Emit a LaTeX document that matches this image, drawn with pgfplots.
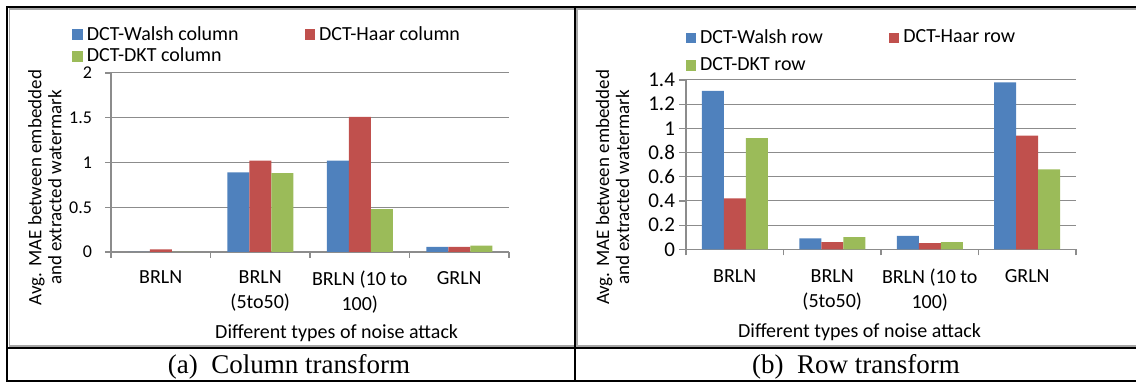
\documentclass[border=0pt]{standalone}
\usepackage{fontspec}
\setmainfont{Carlito}
\newfontfamily\timesf{Liberation Serif}
\usepackage{pgfplots}
\pgfplotsset{compat=1.18}
\definecolor{cblue}{HTML}{4F81BD}
\definecolor{cred}{HTML}{C0504D}
\definecolor{cgreen}{HTML}{9BBB59}
\definecolor{gridc}{HTML}{8C8C8C}
\definecolor{framec}{HTML}{A6A6A6}
\pgfplotsset{
  sqleg/.style={legend image code/.code={\fill[##1] (0pt,-2.6pt) rectangle (5.2pt,2.6pt);}},
  mybar/.style={
    scale only axis,
    ybar=0pt, bar width=11pt,
    xmin=-0.5, xmax=3.5, ymin=0,
    axis lines*=left,
    axis line style={draw=gridc, line width=0.6pt},
    ymajorgrids, grid style={draw=gridc, line width=0.5pt},
    tick align=outside,
    major tick length=3pt, minor tick length=3pt,
    tick style={draw=gridc, line width=0.6pt},
    every major x tick/.append style={draw=none},
    xtick={0,1,2,3},
    minor xtick={-0.5,0.5,1.5,2.5,3.5},
    xticklabels={{BRLN},{BRLN\\[1pt](5to50)},{BRLN (10 to\\[1pt]100)},{GRLN}},
    xticklabel style={align=center, font=\fontsize{10}{11.5}\selectfont, yshift=-3pt},
    /pgf/number format/assume math mode=true,
    xlabel style={font=\fontsize{10}{12}\selectfont},
    ylabel style={font=\fontsize{9.5}{10}\selectfont},
    xlabel={Different types of noise attack},
    ylabel={Avg. MAE between embedded\\and extracted watermark},
    ylabel style={align=center, anchor=center},
    legend columns=2,
    legend cell align=left,
    legend style={draw=none, fill=none, inner sep=0pt, anchor=north west,
      font=\fontsize{10}{12}\selectfont,
      /tikz/every even column/.append style={column sep=31pt}},
  }
}
\begin{document}
\begin{tikzpicture}
\useasboundingbox (0pt,0pt) rectangle (568pt,191.5pt);
% table lines
\draw[framec, line width=0.75pt] (4.75pt,186.9pt) rectangle (287.5pt,18.5pt);
\draw[framec, line width=0.75pt] (568pt,186.9pt) -- (288.6pt,186.9pt) -- (288.6pt,18.5pt) -- (568pt,18.5pt);
\draw[black, line width=1pt] (3pt,187.8pt) -- (568pt,187.8pt);
\draw[black, line width=1pt] (3.5pt,188.3pt) -- (3.5pt,0.3pt);
\draw[black, line width=1pt] (287.5pt,188.3pt) -- (287.5pt,0.3pt);
\draw[black, line width=1pt] (3pt,17.3pt) -- (568pt,17.3pt);
\draw[black, line width=1pt] (3pt,0.8pt) -- (568pt,0.8pt);
\node[font=\timesf\fontsize{13.5}{15}\selectfont] at (144.5pt,8.2pt) {(a)\ \ Column transform};
\node[font=\timesf\fontsize{13.5}{15}\selectfont] at (428pt,8.2pt) {(b)\ \ Row transform};

% left chart
\begin{axis}[mybar,
  at={(55.5pt,65.5pt)}, anchor=south west,
  width=199pt, height=89.5pt,
  ymax=2, ytick={0,0.5,1,1.5,2},
  yticklabel style={font=\fontsize{9}{11}\selectfont, xshift=-3pt},
  xlabel style={at={(axis description cs:0.567,0)}, anchor=center, yshift=-40.5pt},
  ylabel style={at={(axis description cs:-0.166,0.36)}},
  legend style={at={(axis description cs:-0.098,1.286)}, /tikz/row sep=-1.5pt},
]
\addplot[fill=cblue, draw=none, sqleg] coordinates {(0,0) (1,0.89) (2,1.02) (3,0.056)};
\addplot[fill=cred, draw=none, sqleg] coordinates {(0,0.03) (1,1.02) (2,1.51) (3,0.056)};
\addplot[fill=cgreen, draw=none, sqleg] coordinates {(0,0) (1,0.88) (2,0.48) (3,0.07)};
\legend{DCT-Walsh column, DCT-Haar column, DCT-DKT column}
\end{axis}

% right chart
\begin{axis}[mybar,
  at={(343pt,66.85pt)}, anchor=south west,
  width=195pt, height=84.65pt,
  ymax=1.4, ytick={0,0.2,0.4,0.6,0.8,1,1.2,1.4},
  major tick length=3.5pt,
  yticklabel style={font=\fontsize{10.5}{12}\selectfont, xshift=1.5pt,
    /pgf/number format/fixed, /pgf/number format/precision=1},
  xlabel style={at={(axis description cs:0.445,0)}, anchor=center, yshift=-41.5pt},
  ylabel style={at={(axis description cs:-0.188,0.365)}},
  legend style={at={(axis description cs:-0.002,1.324)}, /tikz/row sep=1.5pt},
]
\addplot[fill=cblue, draw=none, sqleg] coordinates {(0,1.31) (1,0.09) (2,0.11) (3,1.38)};
\addplot[fill=cred, draw=none, sqleg] coordinates {(0,0.42) (1,0.06) (2,0.05) (3,0.94)};
\addplot[fill=cgreen, draw=none, sqleg] coordinates {(0,0.92) (1,0.10) (2,0.06) (3,0.66)};
\legend{DCT-Walsh row, DCT-Haar row, DCT-DKT row}
\end{axis}
\end{tikzpicture}
\end{document}
